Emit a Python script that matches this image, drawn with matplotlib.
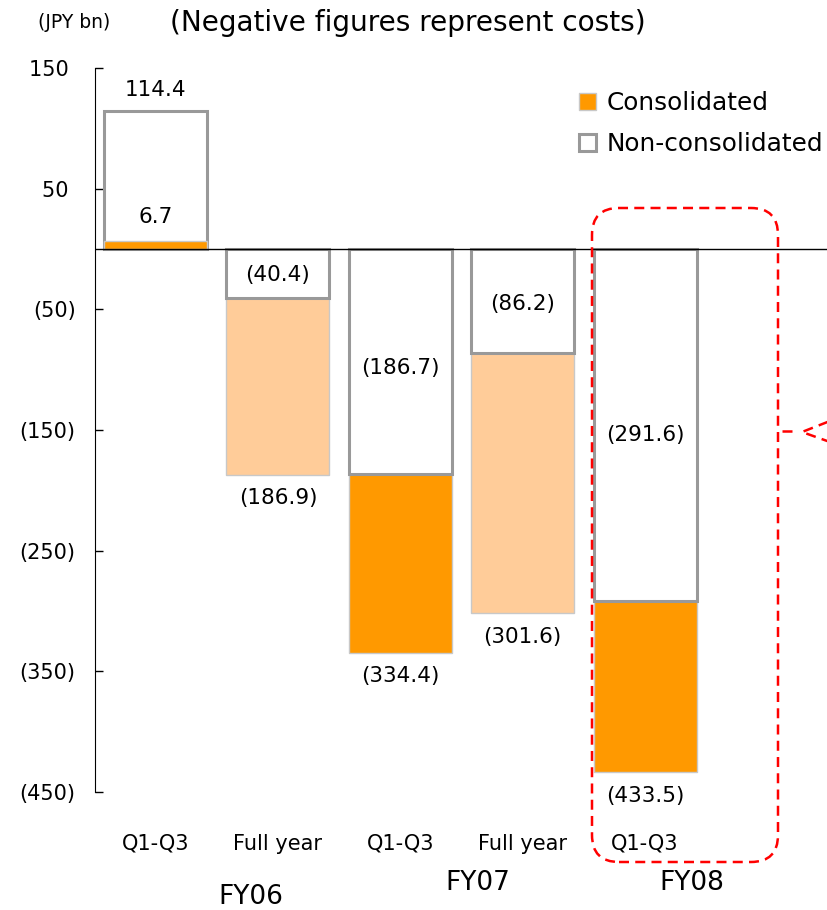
import matplotlib.pyplot as plt
from matplotlib.patches import Patch, FancyBboxPatch
from matplotlib.lines import Line2D
import matplotlib.transforms as mtransforms

# Data (JPY bn)
periods = ["Q1-Q3", "Full year", "Q1-Q3", "Full year", "Q1-Q3"]
fiscal_years = ["FY06", "FY07", "FY08"]
consolidated = [6.7, -186.9, -334.4, -301.6, -433.5]
non_consolidated = [114.4, -40.4, -186.7, -86.2, -291.6]
y_ticks = [150, 50, -50, -150, -250, -350, -450]

ORANGE = "#FF9900"
PEACH = "#FFCC99"
GRAY = "#999999"


def fmt(v):
    return f"{v:.1f}" if v >= 0 else f"({-v:.1f})"


def tick_fmt(v):
    return f"{v} " if v >= 0 else f"({-v})"


fig = plt.figure(figsize=(8.27, 9.10), dpi=100)
ax = fig.add_axes([95 / 827, 1 - 792 / 910, 1 - 95 / 827, (792 - 68) / 910])

width = 0.84
for i in range(len(periods)):
    c = consolidated[i]
    n = non_consolidated[i]
    ccol = ORANGE if periods[i] == "Q1-Q3" else PEACH
    # smaller bar sits on top
    zc, zn = (3, 2) if abs(c) < abs(n) else (2, 3)
    ax.bar(i, c, width, color=ccol, edgecolor="#c8c8c8", linewidth=1, zorder=zc)
    ax.bar(i, n, width, facecolor="white", edgecolor=GRAY, linewidth=2.2, zorder=zn)

    # labels
    if c >= 0:
        ax.annotate(fmt(c), (i, c), xytext=(0, 17), textcoords="offset points",
                    ha="center", va="center", fontsize=15.5, zorder=6)
    else:
        ax.annotate(fmt(c), (i, c), xytext=(0, -17), textcoords="offset points",
                    ha="center", va="center", fontsize=15.5, zorder=6)
    if n >= 0:
        ax.annotate(fmt(n), (i, n), xytext=(0, 15), textcoords="offset points",
                    ha="center", va="center", fontsize=15.5, zorder=6)
    else:
        ax.text(i, n * 0.53, fmt(n), ha="center", va="center", fontsize=15.5, zorder=6)

ax.axhline(0, color="black", linewidth=1, zorder=5)

ax.set_xlim(-0.494, 5.486)
ax.set_ylim(-450, 150)
ax.set_yticks(y_ticks)
ax.set_yticklabels([tick_fmt(v) for v in y_ticks], fontsize=15)
ax.tick_params(axis="y", direction="in", length=6, width=1, pad=14)
ax.set_xticks(range(len(periods)))
ax.set_xticklabels(periods, fontsize=15)
ax.tick_params(axis="x", length=0, pad=30)
for s in ["top", "right", "bottom"]:
    ax.spines[s].set_visible(False)

# fiscal year group labels
trans = mtransforms.blended_transform_factory(ax.transData, ax.transAxes)
fy_x = [0.78, 2.63, 4.38]
fy_y = [-0.145, -0.126, -0.126]
for lab, xx, yy in zip(fiscal_years, fy_x, fy_y):
    ax.text(xx, yy, lab, transform=trans, ha="center", va="center", fontsize=19)

# titles
fig.text(38 / 827, 1 - 22 / 910, "(JPY bn)", fontsize=13.5, ha="left", va="center")
fig.text(170 / 827, 1 - 23 / 910, "(Negative figures represent costs)",
         fontsize=20.2, ha="left", va="center")

# legend
handles = [Patch(facecolor=ORANGE, edgecolor="#c8c8c8", linewidth=1),
           Patch(facecolor="white", edgecolor=GRAY, linewidth=2.2)]
fig.legend(handles, ["Consolidated", "Non-consolidated"], loc="upper left",
           bbox_to_anchor=(579 / 827, 1 - 91 / 910), frameon=False, fontsize=17.8,
           handlelength=0.68, handleheight=0.68, handletextpad=0.42,
           labelspacing=0.7, borderpad=0, borderaxespad=0)

# red dashed highlight box around FY08
inch = fig.dpi_scale_trans
box = FancyBboxPatch((5.92, 0.48), 1.86, 6.54,
                     boxstyle="round,pad=0,rounding_size=0.27",
                     transform=inch, fill=False, edgecolor="red",
                     linewidth=1.8, linestyle=(0, (4, 2.5)), clip_on=False)
fig.add_artist(box)
fig.add_artist(Line2D([7.82, 7.97], [4.79, 4.79], transform=inch, color="red",
                      linewidth=1.8, linestyle=(0, (4, 2.5))))
fig.add_artist(Line2D([8.30, 8.02, 8.30], [4.89, 4.78, 4.68], transform=inch,
                      color="red", linewidth=1.8, linestyle=(0, (4, 2.5))))

plt.savefig("out.png", dpi=100)
